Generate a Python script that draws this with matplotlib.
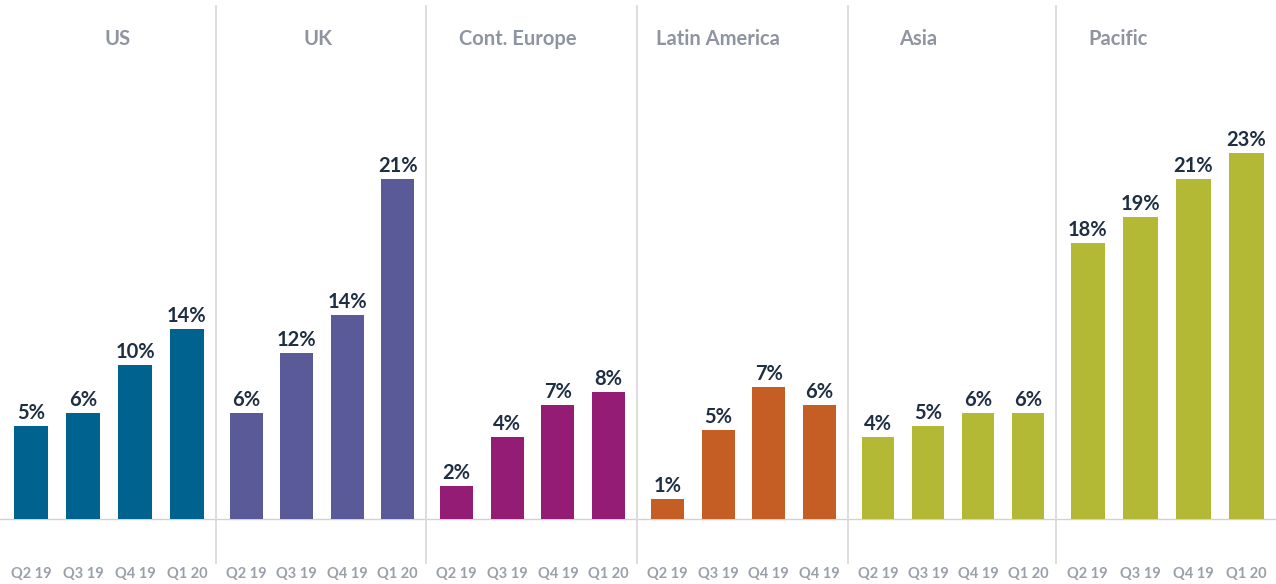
import matplotlib.pyplot as plt

regions = ['US', 'UK', 'Cont. Europe', 'Latin America', 'Asia', 'Pacific']
quarters = [
    ['Q2 19', 'Q3 19', 'Q4 19', 'Q1 20'],
    ['Q2 19', 'Q3 19', 'Q4 19', 'Q1 20'],
    ['Q2 19', 'Q3 19', 'Q4 19', 'Q1 20'],
    ['Q2 19', 'Q3 19', 'Q4 19', 'Q4 19'],
    ['Q2 19', 'Q3 19', 'Q4 19', 'Q1 20'],
    ['Q2 19', 'Q3 19', 'Q4 19', 'Q1 20'],
]
# printed labels
labels = [
    [5, 6, 10, 14],
    [6, 12, 14, 21],
    [2, 4, 7, 8],
    [1, 5, 7, 6],
    [4, 5, 6, 6],
    [18, 19, 21, 23],
]
# bar heights as drawn (the artwork isn't strictly to scale)
heights = [
    [5.8, 6.6, 9.6, 11.9],
    [6.6, 10.4, 12.75, 21.25],
    [2.05, 5.1, 7.1, 7.95],
    [1.25, 5.55, 8.25, 7.1],
    [5.1, 5.8, 6.6, 6.6],
    [17.25, 18.9, 21.25, 22.9],
]
colors = ['#00628e', '#5a5a99', '#941c74', '#c55e25', '#b3b935', '#b3b935']

W, H = 1276, 584
edges = [0, 216, 426, 637, 848, 1056, 1276]
base_px = 519
px_per_unit = 16

plt.rcParams['font.family'] = ['Lato', 'DejaVu Sans']
fig = plt.figure(figsize=(W / 100, H / 100), dpi=100)

ylo = -(H - base_px) / px_per_unit
yhi = base_px / px_per_unit

for i, region in enumerate(regions):
    left = edges[i] / W
    width = (edges[i + 1] - edges[i]) / W
    ax = fig.add_axes([left, 0, width, 1])
    ax.set_xlim(-0.6, 3.56)
    ax.set_ylim(ylo, yhi)
    ax.axis('off')

    xs = range(4)
    ax.bar(xs, heights[i], width=0.65, color=colors[i], zorder=3)
    for x, h, lab in zip(xs, heights[i], labels[i]):
        ax.annotate(f'{lab}%', (x, h), xytext=(0, 5), textcoords='offset points',
                    ha='center', va='baseline', fontsize=14.5, fontweight='bold',
                    color='#1f2f42')
        ax.text(x, -59 / px_per_unit, quarters[i][x], ha='center', va='baseline',
                fontsize=10.5, fontweight='bold', color='#9aa0a9')

    ax.axhline(0, color='#d2d2d2', lw=1, zorder=2)
    if i > 0:
        ax.axvline(-0.6, ymin=(H - 563) / H, ymax=(H - 6) / H, color='#dadada',
                   lw=1.3, clip_on=False)

    fig.text((118 + 200 * i) / W, 1 - 39 / H, region, ha='center', va='center',
             fontsize=14.5, fontweight='bold', color='#8e94a0')

fig.savefig('out.png', dpi=100)
